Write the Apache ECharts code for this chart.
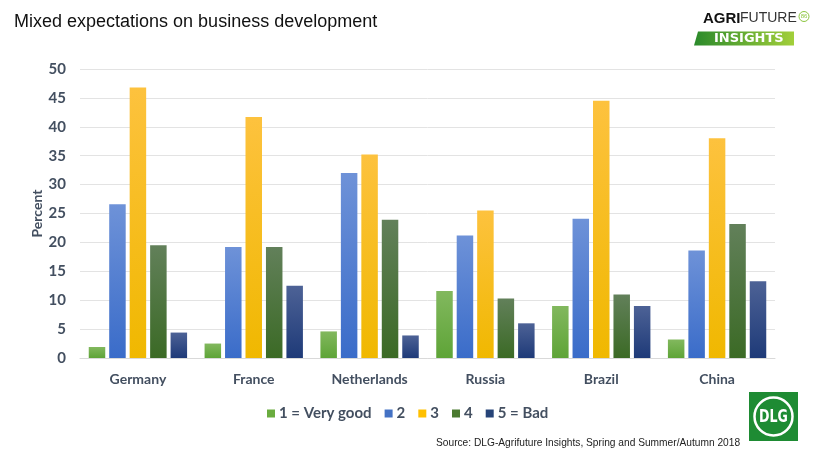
<!DOCTYPE html>
<html><head><meta charset="utf-8">
<script src="https://cdn.jsdelivr.net/npm/echarts@6/dist/echarts.min.js"></script>
<style>html,body{margin:0;padding:0;background:#fff}#c{width:820px;height:457px}</style>
</head><body><div id="c"></div>
<script>
const countries = ['Germany','France','Netherlands','Russia','Brazil','China'];
const seriesNames = ['1 = Very good','2','3','4','5 = Bad'];
const veryGood = [1.9, 2.5, 4.6, 11.6, 9.0, 3.2];
const two      = [26.6, 19.2, 32.0, 21.2, 24.1, 18.6];
const three    = [46.8, 41.7, 35.2, 25.5, 44.5, 38.0];
const four     = [19.5, 19.2, 23.9, 10.3, 11.0, 23.2];
const bad      = [4.4, 12.5, 3.9, 6.0, 9.0, 13.3];
const yTicks = [0,5,10,15,20,25,30,35,40,45,50];

const values = [veryGood, two, three, four, bad];
const grads = [
  ['#82b85e','#5ea437','#6aac3f'],
  ['#6e92d8','#3a6cc9','#4472c4'],
  ['#fdc23e','#f0b800','#ffc000'],
  ['#62805a','#3b6a25','#4b7a30'],
  ['#4d6296','#1e3a78','#264478']
];
const txt = '#434f60';
const chart = echarts.init(document.getElementById('c'), null, {renderer:'canvas'});
chart.setOption({
  animation:false,
  backgroundColor:'#fff',
  title:{text:'Mixed expectations on business development', left:9, top:8,
    textStyle:{fontFamily:'Liberation Sans', fontSize:18, fontWeight:'normal', color:'#111'}},
  grid:{left:80, right:45, top:69, bottom:99},
  legend:{left:262, top:401, itemWidth:8, itemHeight:8, itemGap:13, icon:'rect',
    textStyle:{fontFamily:'Lato', fontWeight:'bold', fontSize:15, color:txt, padding:[0,0,0,-1]},
    data: seriesNames.map((n,i)=>({name:n, itemStyle:{color:grads[i][2]}}))},
  xAxis:{type:'category', data:countries,
    axisLine:{lineStyle:{color:'#d9d9d9'}}, axisTick:{show:false},
    axisLabel:{fontFamily:'Lato', fontWeight:'bold', fontSize:14, color:txt, margin:14}},
  yAxis:{type:'value', min:0, max:50, interval:5,
    name:'Percent', nameLocation:'middle', nameGap:36, nameRotate:90, nameMoveOverlap:false,
    nameTextStyle:{fontFamily:'Lato', fontWeight:'bold', fontSize:14, color:txt},
    axisLine:{show:false}, axisTick:{show:false},
    axisLabel:{fontFamily:'Lato', fontWeight:'bold', fontSize:15, color:txt, margin:14,
      formatter:v=>yTicks.includes(v)?String(v):''},
    splitLine:{lineStyle:{color:'#e3e3e3'}}},
  series: values.map((d,i)=>({
    name:seriesNames[i], type:'bar', data:d, barWidth:16.5, barGap:'24%',
    itemStyle:{color:new echarts.graphic.LinearGradient(0,0,0,1,[
      {offset:0,color:grads[i][0]},{offset:1,color:grads[i][1]}])}
  })),
  graphic:[
    {type:'text', left:436, top:438, style:{text:'Source: DLG-Agrifuture Insights, Spring and Summer/Autumn 2018',
      font:'10.2px "Liberation Sans"', fill:'#222'}},
    {type:'group', left:749, top:392, children:[
      {type:'rect', shape:{x:0,y:0,width:49,height:49}, style:{fill:'#1e8b33'}},
      {type:'circle', shape:{cx:24.5,cy:24.5,r:19}, style:{fill:'none', stroke:'#fff', lineWidth:2.5}},
      {type:'text', x:24.5, y:25, scaleY:1.3, style:{text:'DLG', font:'bold 14px "DejaVu Sans Condensed"', fill:'#fff', align:'center', verticalAlign:'middle'}}
    ]},
    {type:'group', left:694, top:9, children:[
      {type:'text', x:9, y:0, style:{text:'AGRI', font:'bold 15px "Liberation Sans"', fill:'#111'}},
      {type:'text', x:46, y:0, style:{text:'FUTURE', font:'14px "Liberation Sans"', fill:'#333'}},
      {type:'circle', shape:{cx:110, cy:5, r:5}, style:{fill:'none', stroke:'#8cc63f', lineWidth:1}},
      {type:'text', x:110, y:5, style:{text:'86', font:'6px sans-serif', fill:'#8cc63f', align:'center', verticalAlign:'middle'}},
      {type:'polygon', shape:{points:[[4,20],[100,20],[100,34],[0,34]]},
        style:{fill:new echarts.graphic.LinearGradient(0,0,1,0,[{offset:0,color:'#2b8a2b'},{offset:1,color:'#a2cf3a'}])}},
      {type:'text', x:20, y:21, style:{text:'INSIGHTS', font:'bold 13px "DejaVu Sans"', fill:'#fff'}}
    ]}
  ]
});
</script></body></html>
